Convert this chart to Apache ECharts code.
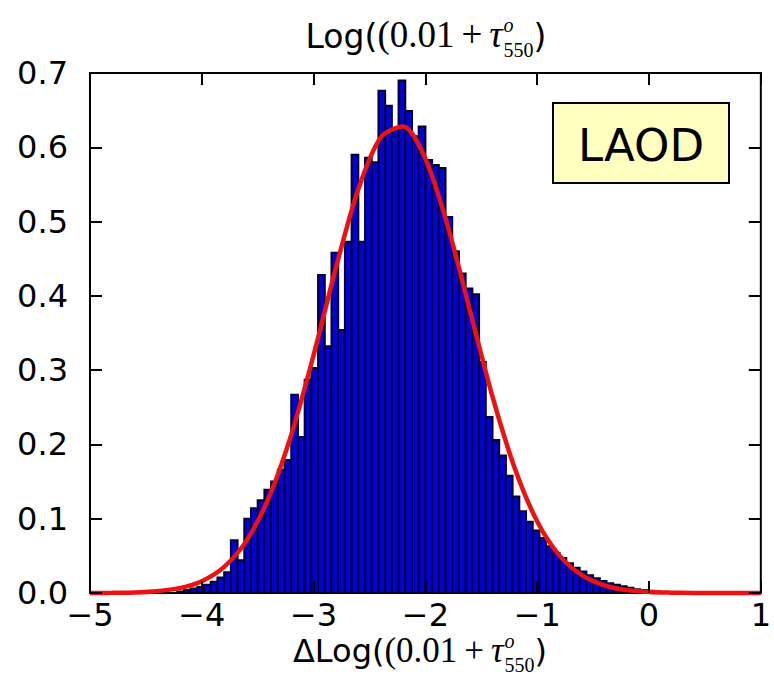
<!DOCTYPE html>
<html><head><meta charset="utf-8">
<script src="https://cdn.jsdelivr.net/npm/echarts@6/dist/echarts.min.js"></script>
<style>html,body{margin:0;padding:0;background:#fff}#c{width:774px;height:676px}</style>
</head><body><div id="c"></div>
<script>
// ---- data ----
const binStart = -4.22;      // left edge of first histogram bin
const binWidth = 0.06;       // histogram bin width
const binHeights = [
  0.002, 0.004, 0.006, 0.008, 0.011, 0.015, 0.021, 0.028, 0.071, 0.044,
  0.100, 0.114, 0.125, 0.139, 0.150, 0.166, 0.179, 0.267, 0.210, 0.287,
  0.303, 0.428, 0.332, 0.458, 0.354, 0.473, 0.590, 0.473, 0.586, 0.580,
  0.676, 0.656, 0.625, 0.690, 0.649, 0.615, 0.628, 0.583, 0.576, 0.572,
  0.506, 0.460, 0.430, 0.410, 0.402, 0.311, 0.237, 0.206, 0.185, 0.158,
  0.130, 0.110, 0.096, 0.084, 0.074, 0.063, 0.054, 0.047, 0.040, 0.034,
  0.029, 0.024, 0.020, 0.016, 0.013, 0.011, 0.009, 0.007, 0.005, 0.004,
  0.003, 0.002, 0.001
];
const fitX = [-5.0,-4.8,-4.6,-4.4,-4.2,-4.0,-3.8,-3.6,-3.4,-3.2,-3.0,-2.8,-2.6,-2.4,-2.2,
              -2.0,-1.8,-1.6,-1.4,-1.2,-1.0,-0.8,-0.6,-0.4,-0.2,0.0,0.2,0.4,0.6,0.8,1.0];
const fitY = [0.0000,0.0003,0.0008,0.0024,0.0065,0.0159,0.0351,0.0705,0.1286,0.2129,0.3204,
              0.4380,0.5438,0.6132,0.6281,0.5845,0.4939,0.3791,0.2644,0.1675,0.0963,0.0503,
              0.0239,0.0103,0.0040,0.0014,0.0005,0.0001,0.0000,0.0000,0.0000];
const xTicks = [-5, -4, -3, -2, -1, 0, 1];
const yTicks = [0.0, 0.1, 0.2, 0.3, 0.4, 0.5, 0.6, 0.7];
const panelLabel = 'LAOD';
const titlePrefix = 'Log(';
const xLabelPrefix = '\u0394Log(';

// ---- build ----
const histData = binHeights.map((h, i) => [binStart + i * binWidth, binStart + (i + 1) * binWidth, h]);
const fitData = fitX.map((x, i) => [x, fitY[i]]);

const SANS = '"DejaVu Sans"';
const SERIF = '"Liberation Serif"';
const mctx = document.createElement('canvas').getContext('2d');
function tw(text, font) { mctx.font = font; return mctx.measureText(text).width; }

function mathLabel(prefix, cx, base, S, M, s, supDy, subDy) {
  const f = (st, sz, fam) => st + ' ' + sz + 'px ' + fam;
  const segs = [
    { text: prefix, font: f('normal', S, SANS), size: S, dy: 0 },
    { text: '(0.01', font: f('normal', M, SERIF), size: M, dy: 0 },
    { gap: 7 },
    { text: '+', font: f('normal', M, SERIF), size: M, dy: 0 },
    { gap: 7 },
    { text: '\u03C4', font: f('italic', M, SERIF), size: M, dy: 0 },
    { stack: [
      { text: 'o', font: f('italic', s, SERIF), size: s, dy: supDy },
      { text: '550', font: f('normal', s, SERIF), size: s, dy: subDy }
    ] },
    { text: ')', font: f('normal', S, SANS), size: S, dy: 0 }
  ];
  let total = 0;
  segs.forEach(g => {
    if (g.gap) g.w = g.gap;
    else if (g.stack) g.w = Math.max(...g.stack.map(t => tw(t.text, t.font))) + 1;
    else g.w = tw(g.text, g.font);
    total += g.w;
  });
  let x = cx - total / 2;
  const els = [];
  const mk = (t, x0) => ({
    type: 'text', silent: true, z: 20,
    style: { text: t.text, x: x0, y: base - 0.3 * t.size + t.dy, font: t.font, fill: '#000',
             align: 'left', verticalAlign: 'middle', textAlign: 'left', textVerticalAlign: 'middle' }
  });
  segs.forEach(g => {
    if (g.stack) g.stack.forEach(t => els.push(mk(t, x + 1)));
    else if (!g.gap) els.push(mk(g, x));
    x += g.w;
  });
  return els;
}

const minusFmt = v => (v < 0 ? '\u2212' + Math.abs(v) : String(v));
const tickStyle = () => ({ inside: true, length: 12, lineStyle: { color: '#000', width: 2 } });
const noLine = () => ({ show: false, onZero: false });

const option = {
  backgroundColor: '#fff',
  animation: false,
  grid: { left: 90, right: 11, top: 73, bottom: 83, show: true, borderColor: '#000', borderWidth: 2,
          backgroundColor: 'transparent' },
  xAxis: [
    { type: 'value', min: xTicks[0], max: xTicks[xTicks.length - 1], interval: 1, position: 'bottom', z: 6,
      axisLine: noLine(), splitLine: { show: false }, axisTick: tickStyle(),
      axisLabel: { fontSize: 32, fontFamily: 'DejaVu Sans', color: '#000', margin: 10, lineHeight: 24,
                   formatter: minusFmt } },
    { type: 'value', min: xTicks[0], max: xTicks[xTicks.length - 1], interval: 1, position: 'top', z: 6,
      axisLine: noLine(), splitLine: { show: false }, axisTick: tickStyle(), axisLabel: { show: false } }
  ],
  yAxis: [
    { type: 'value', min: yTicks[0], max: yTicks[yTicks.length - 1], interval: 0.1, position: 'left', z: 6,
      axisLine: noLine(), splitLine: { show: false }, axisTick: tickStyle(),
      axisLabel: { fontSize: 32, fontFamily: 'DejaVu Sans', color: '#000', margin: 22, lineHeight: 24,
                   formatter: v => v.toFixed(1) } },
    { type: 'value', min: yTicks[0], max: yTicks[yTicks.length - 1], interval: 0.1, position: 'right', z: 6,
      axisLine: noLine(), splitLine: { show: false }, axisTick: tickStyle(), axisLabel: { show: false } }
  ],
  series: [
    { type: 'custom', xAxisIndex: 0, yAxisIndex: 0, data: histData, encode: { x: [0, 1], y: 2 },
      renderItem: (params, api) => {
        const p0 = api.coord([api.value(0), api.value(2)]);
        const p1 = api.coord([api.value(1), 0]);
        return { type: 'rect', shape: { x: p0[0], y: p0[1], width: p1[0] - p0[0], height: p1[1] - p0[1] },
                 style: { fill: '#0000dd', stroke: '#00002a', lineWidth: 2 } };
      }, z: 2 },
    { type: 'line', xAxisIndex: 0, yAxisIndex: 0, data: fitData, smooth: 0.3, showSymbol: false,
      lineStyle: { color: '#ee1111', width: 4.5 }, z: 3, clip: false }
  ],
  graphic: [
    { type: 'rect', shape: { x: 553, y: 103, width: 176, height: 80 },
      style: { fill: '#ffffc0', stroke: '#000', lineWidth: 2 }, z: 10 },
    { type: 'text', z: 11, style: { text: panelLabel, x: 641, y: 145, font: '45px "DejaVu Sans"', fill: '#000',
      align: 'center', verticalAlign: 'middle', textAlign: 'center', textVerticalAlign: 'middle' } },
    ...mathLabel(titlePrefix, 426, 46, 33, 37, 20, -15, 10),
    ...mathLabel(xLabelPrefix, 420, 661, 32, 35, 20, -14, 10)
  ]
};
const chart = echarts.init(document.getElementById('c'), null, { renderer: 'svg' });
chart.setOption(option);
</script>
</body></html>
